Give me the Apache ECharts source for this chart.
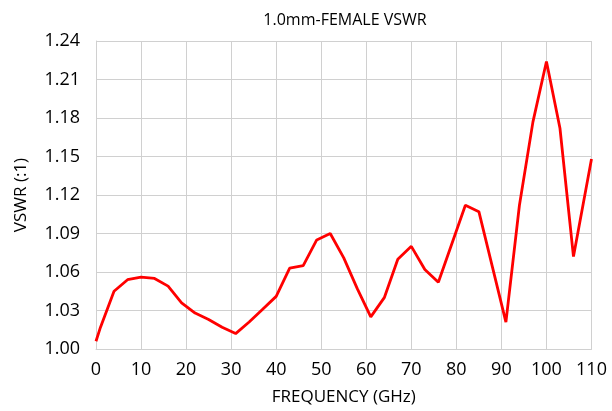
<!DOCTYPE html>
<html>
<head>
<meta charset="utf-8">
<script src="https://cdn.jsdelivr.net/npm/echarts@6/dist/echarts.min.js"></script>
<style>html,body{margin:0;padding:0;background:#fff}#c{width:612px;height:411px}</style>
</head>
<body>
<div id="c"></div>
<script>
const titleText = "1.0mm-FEMALE VSWR";
const xName = "FREQUENCY (GHz)";
const yName = "VSWR (:1)";
const freq = [0, 1, 4, 7, 10, 13, 16, 19, 22, 25, 28, 31, 34, 37, 40, 43, 46, 49, 52, 55, 58, 61, 64, 67, 70, 73, 76, 79, 82, 85, 88, 91, 94, 97, 100, 103, 106, 110];
const vswr = [1.006, 1.017, 1.045, 1.054, 1.056, 1.055, 1.049, 1.036, 1.028, 1.023, 1.017, 1.012, 1.021, 1.031, 1.041, 1.063, 1.065, 1.085, 1.090, 1.071, 1.047, 1.025, 1.040, 1.070, 1.080, 1.062, 1.052, 1.082, 1.112, 1.107, 1.064, 1.021, 1.112, 1.177, 1.224, 1.172, 1.072, 1.148];

const chart = echarts.init(document.getElementById('c'), null, {renderer: 'canvas'});
const font = "Open Sans";
chart.setOption({
  animation: false,
  backgroundColor: '#fff',
  title: {
    text: titleText, left: 340, top: 7, textAlign: 'center',
    textStyle: {fontFamily: font, fontSize: 16, fontWeight: 'normal', color: '#000'}
  },
  grid: {left: 96, right: 20.5, top: 41, bottom: 62, containLabel: false},
  xAxis: {
    type: 'value', min: 0, max: 110, interval: 10,
    name: xName, nameLocation: 'middle', nameGap: 40,
    nameTextStyle: {fontFamily: font, fontSize: 17, color: '#000'},
    axisLine: {show: true, lineStyle: {color: '#d0d0d0', width: 1}},
    axisTick: {show: false},
    axisLabel: {fontFamily: font, fontSize: 18, color: '#000', margin: 12},
    splitLine: {show: true, lineStyle: {color: '#d0d0d0', width: 1}}
  },
  yAxis: {
    type: 'value', min: 1.00, max: 1.24, interval: 0.03,
    name: yName, nameLocation: 'middle', nameGap: 66, nameRotate: 90,
    nameTextStyle: {fontFamily: font, fontSize: 17, color: '#000'},
    axisLine: {show: true, lineStyle: {color: '#d0d0d0', width: 1}},
    axisTick: {show: false},
    axisLabel: {fontFamily: font, fontSize: 18, color: '#000', margin: 16, formatter: v => v.toFixed(2)},
    splitLine: {show: true, lineStyle: {color: '#d0d0d0', width: 1}}
  },
  series: [{
    type: 'line',
    data: freq.map((f, i) => [f, vswr[i]]),
    showSymbol: false,
    lineStyle: {color: '#ff0000', width: 2.8},
    itemStyle: {color: '#ff0000'}
  }]
});
</script>
</body>
</html>
